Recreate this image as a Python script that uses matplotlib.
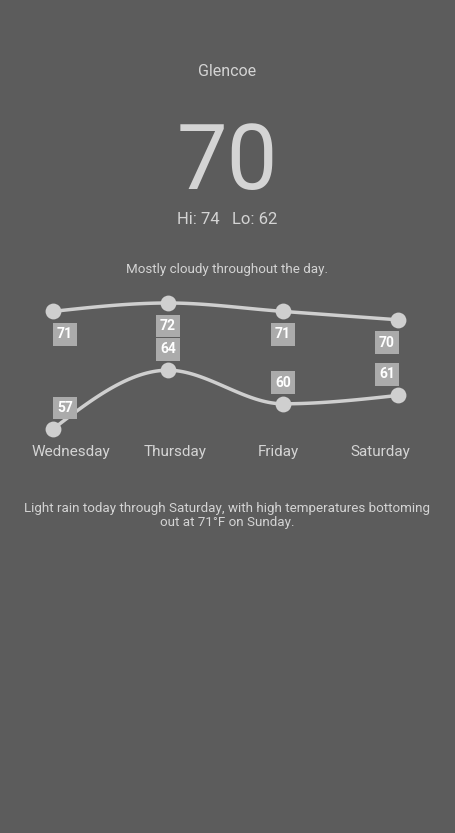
import numpy as np
import matplotlib
matplotlib.use("Agg")
import matplotlib.pyplot as plt

days = ["Wednesday", "Thursday", "Friday", "Saturday"]
highs = [71, 72, 71, 70]
lows = [57, 64, 60, 61]
city = "Glencoe"
current = "70"
hi_lo = "Hi: 74   Lo: 62"
summary = "Mostly cloudy throughout the day."
forecast = "Light rain today through Saturday, with high temperatures bottoming\nout at 71°F on Sunday."

BG = "#5c5c5c"
FG = "#d4d4d4"
LINE = "#cfcfcf"
BOX = "#ababab"

plt.rcParams['font.family'] = ['Roboto', 'DejaVu Sans']

W, H = 455, 833
fig = plt.figure(figsize=(W / 100, H / 100), dpi=100, facecolor=BG)


def monotone(y, n=40):
    y = np.asarray(y, float)
    m = len(y)
    d = np.diff(y)
    t = np.zeros(m)
    for i in range(1, m - 1):
        s0, s1 = d[i - 1], d[i]
        p = (s0 + s1) / 2
        t[i] = (np.sign(s0) + np.sign(s1)) * min(abs(s0), abs(s1), 0.5 * abs(p)) or 0.0
    t[0] = (3 * d[0] - t[1]) / 2
    t[-1] = (3 * d[-1] - t[-2]) / 2
    xs, ys = [], []
    for i in range(m - 1):
        u = np.linspace(0, 1, n)
        h00 = 2 * u**3 - 3 * u**2 + 1
        h10 = u**3 - 2 * u**2 + u
        h01 = -2 * u**3 + 3 * u**2
        h11 = u**3 - u**2
        xs.append(i + u)
        ys.append(h00 * y[i] + h10 * t[i] + h01 * y[i + 1] + h11 * t[i + 1])
    return np.concatenate(xs), np.concatenate(ys)


# axes mapping: x 0..3 -> px 53..398 ; y 74 -> 286.2, 55 -> 445.8
left_px, right_px = 53, 398
top_px, bot_px = 286.2, 445.8
ax = fig.add_axes([left_px / W, 1 - bot_px / H, (right_px - left_px) / W, (bot_px - top_px) / H])
ax.set_xlim(0, 3)
ax.set_ylim(55, 74)
ax.axis('off')
ax.patch.set_alpha(0)

x = np.arange(len(days))
for series in (highs, lows):
    cx, cy = monotone(series)
    ax.plot(cx, cy, color=LINE, lw=2.5, solid_capstyle='round', clip_on=False, zorder=2)
    ax.scatter(x, series, s=130, color=LINE, zorder=3, clip_on=False, linewidths=0)

xshift = [12, 0, 0, -11]
for i in range(len(days)):
    ax.annotate(str(highs[i]), (x[i], highs[i]), xytext=(xshift[i], -23), textcoords='offset pixels',
                ha='center', va='center', color='white', fontsize=10, fontweight='bold',
                bbox=dict(boxstyle='square,pad=0.32', fc=BOX, ec='none'), zorder=4, annotation_clip=False)
    ax.annotate(str(lows[i]), (x[i], lows[i]), xytext=(xshift[i], 21), textcoords='offset pixels',
                ha='center', va='center', color='white', fontsize=10, fontweight='bold',
                bbox=dict(boxstyle='square,pad=0.32', fc=BOX, ec='none'), zorder=4, annotation_clip=False)

day_px = [71, 175, 278, 380]
for dpx, d in zip(day_px, days):
    fig.text(dpx / W, 1 - 452 / H, d, ha='center', va='center', color=FG, fontsize=11)

fig.text(0.5, 1 - 72 / H, city, ha='center', va='center', color=FG, fontsize=11.5)
fig.text(0.5, 1 - 164 / H, current, ha='center', va='center', color=FG, fontsize=65, fontweight='normal')
fig.text(0.5, 1 - 220 / H, hi_lo, ha='center', va='center', color=FG, fontsize=12)
fig.text(0.5, 1 - 269 / H, summary, ha='center', va='center', color=FG, fontsize=9.6)
fig.text(0.5, 1 - 515.5 / H, forecast, ha='center', va='center', color=FG, fontsize=9.6,
         multialignment='center', linespacing=1.15)

fig.savefig("out.png", dpi=100, facecolor=BG)
